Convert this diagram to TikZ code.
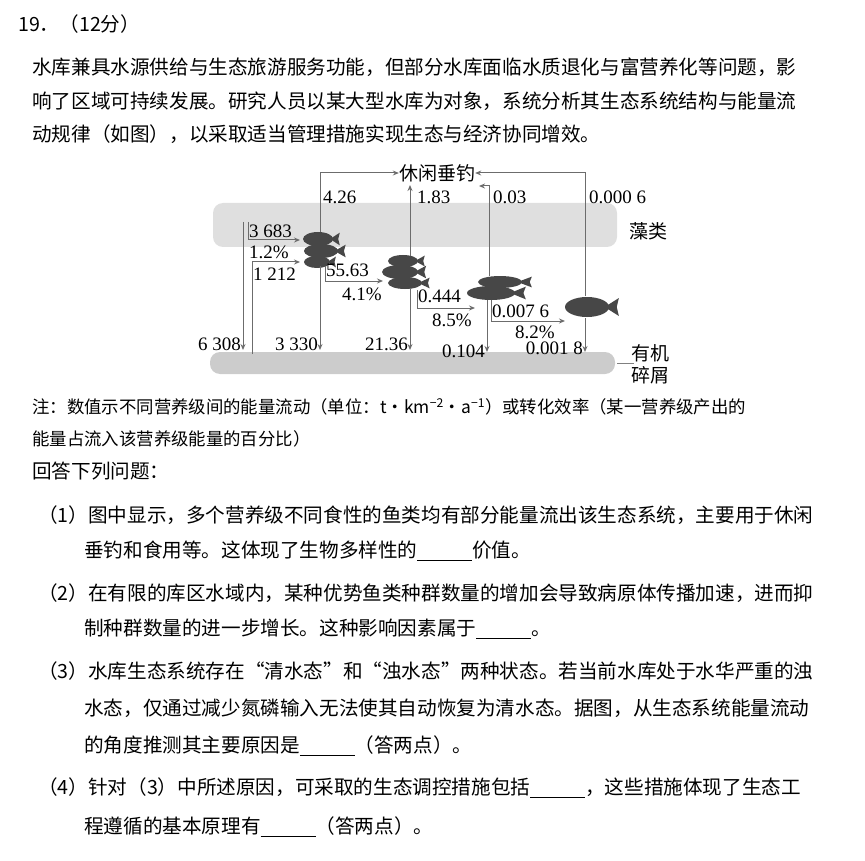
\documentclass[tikz,border=0pt]{standalone}
\usepackage{fontspec}
\usetikzlibrary{arrows.meta}
\setmainfont{Liberation Serif}
\newfontfamily\cjk{Noto Sans CJK SC}
\begin{document}
\begin{tikzpicture}[x=1pt,y=-1pt,
  body/.style={anchor=west,inner sep=0,font=\cjk\fontsize{19.6}{22}\selectfont},
  note/.style={anchor=west,inner sep=0,font=\cjk\fontsize{17.4}{20}\selectfont},
  num/.style={inner sep=0,font=\fontsize{19}{21}\selectfont},
  lab/.style={inner sep=0,font=\cjk\fontsize{19}{22}\selectfont},
  flow/.style={draw=gray!85!black,line width=1pt,-{Stealth[length=6pt,width=5pt]}},
  fishc/.style={fill=black!72},
  band/.style={fill=gray!25,draw=none,rounded corners=10pt}]
\useasboundingbox (0,0) rectangle (865,861);
\newcommand{\blank}{\rule[-3pt]{55pt}{0.7pt}}
% header and paragraph
\node[body] (h) at (18,24) {19．（12分）};
\node[body] (p1) at (32,67) {水库兼具水源供给与生态旅游服务功能，但部分水库面临水质退化与富营养化等问题，影};
\node[body] (p2) at (32,101) {响了区域可持续发展。研究人员以某大型水库为对象，系统分析其生态系统结构与能量流};
\node[body] (p3) at (32,134) {动规律（如图），以采取适当管理措施实现生态与经济协同增效。};
% bands
\fill[band] (213,203) rectangle (617,247);
\fill[band,fill=gray!40] (210,352) rectangle (615,374);
\node[lab] (alg) at (648,231) {藻类};
\node[lab,align=center] (det) at (650,364) {有机\\碎屑};
\draw[gray,line width=0.6pt] (617,363) -- (634,363);
\node[lab] (leis) at (437,173) {休闲垂钓};
% fish
\newcommand{\fishdraw}[4]{%
  \fill[fishc] (#1,#2) ellipse ({#3} and {#4});
  \fill[fishc] (#1+#3*0.8,#2) -- (#1+#3*1.45,#2-#4*0.9) -- (#1+#3*1.35,#2) -- (#1+#3*1.45,#2+#4*0.9) -- cycle;}
\fishdraw{318}{239}{15}{7}
\fishdraw{321}{251}{17}{7}
\fishdraw{317}{262}{13}{6}
\fishdraw{403}{261}{15}{6}
\fishdraw{400}{272}{18}{7}
\fishdraw{405}{283}{17}{6}
\fishdraw{500}{282}{22}{6}
\fishdraw{491}{293}{24}{7}
\fishdraw{587}{307}{22}{10}
\node[inner sep=0,minimum size=30pt] (f1) at (320,250) {};
\node[inner sep=0,minimum size=30pt] (f2) at (408,272) {};
\node[inner sep=0,minimum size=24pt] (f3) at (494,290) {};
\node[inner sep=0,minimum size=22pt] (f4) at (590,307) {};
\coordinate (a1) at (243,222); \coordinate (d1) at (243,350);
\coordinate (a2) at (248,222); \coordinate (d2) at (252,354);
% flows to leisure
\draw[flow] (320,232) |- (leis.west);
\draw[flow] (410,256) -- (410,185);
\draw[flow] (489,276) |- (479,186);
\draw[flow] (585,296) |- (leis.east);
% trophic flows
\draw[flow] (a2) |- (300,240);
\draw[flow] (d2) |- (300,262);
\draw[flow] (a1) -- (d1);
\draw[flow] (320,266) -- (320,350);
\draw[flow] (325,266) |- (383,281);
\draw[flow] (410,288) -- (410,350);
\draw[flow] (417,290) |- (475,308);
\draw[flow] (487,300) -- (487,352);
\draw[flow] (491,300) |- (565,321);
\draw[flow] (585,318) -- (585,352);
% labels
\node[num,anchor=west] at (323,197) {4.26};
\node[num,anchor=west] at (417,197) {1.83};
\node[num,anchor=west] at (493,197) {0.03};
\node[num,anchor=west] at (589,197) {0.000 6};
\node[num,anchor=west] at (249,231) {3 683};
\node[num,anchor=west] at (249,252) {1.2\%};
\node[num,anchor=west] at (253,274) {1 212};
\node[num,anchor=west] at (326,270) {55.63};
\node[num] at (362,294) {4.1\%};
\node[num,anchor=west] at (418,296) {0.444};
\node[num] at (452,320) {8.5\%};
\node[num,anchor=west] at (492,311) {0.007 6};
\node[num] at (535,332) {8.2\%};
\node[num,anchor=east] at (241,344) {6 308};
\node[num,anchor=east] at (318,344) {3 330};
\node[num,anchor=east] at (408,344) {21.36};
\node[num,anchor=east] at (485,351) {0.104};
\node[num,anchor=east] at (583,348) {0.001 8};
% note
\node[note] (n1) at (32,407) {注：数值示不同营养级间的能量流动（单位：t·km\textsuperscript{−2}·a\textsuperscript{−1}）或转化效率（某一营养级产出的};
\node[note] (n2) at (32,439) {能量占流入该营养级能量的百分比）};
\node[body] (q0) at (32,471) {回答下列问题：};
\node[body] (q1) at (38,515) {（1）图中显示，多个营养级不同食性的鱼类均有部分能量流出该生态系统，主要用于休闲};
\node[body] (q1b) at (84,551) {垂钓和食用等。这体现了生物多样性的\blank 价值。};
\node[body] (q2) at (38,593) {（2）在有限的库区水域内，某种优势鱼类种群数量的增加会导致病原体传播加速，进而抑};
\node[body] (q2b) at (84,629) {制种群数量的进一步增长。这种影响因素属于\blank 。};
\node[body] (q3) at (38,671) {（3）水库生态系统存在“清水态”和“浊水态”两种状态。若当前水库处于水华严重的浊};
\node[body] (q3b) at (84,708) {水态，仅通过减少氮磷输入无法使其自动恢复为清水态。据图，从生态系统能量流动};
\node[body] (q3c) at (84,746) {的角度推测其主要原因是\blank （答两点）。};
\node[body] (q4) at (38,788) {（4）针对（3）中所述原因，可采取的生态调控措施包括\blank ，这些措施体现了生态工};
\node[body] (q4b) at (84,827) {程遵循的基本原理有\blank （答两点）。};
\end{tikzpicture}
\end{document}
